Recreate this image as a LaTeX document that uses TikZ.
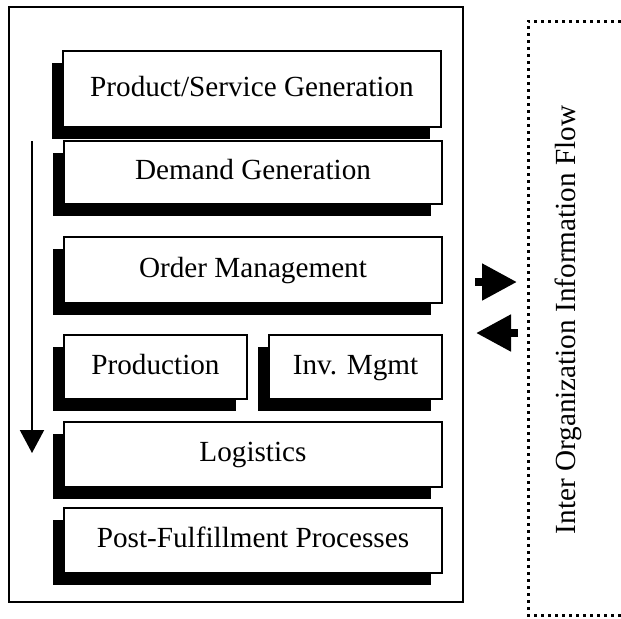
\documentclass[tikz,border=0pt]{standalone}
\usepackage{fontspec}
\setmainfont{Liberation Serif}
\usepackage{tikz}
\usetikzlibrary{arrows.meta,shadows}
\tikzset{
  lepes/.style={draw,line width=0.65pt,fill=white,inner sep=0pt,align=center,
                font=\fontsize{14.6}{17}\selectfont,text height=10pt,text depth=3pt,
                minimum width=189pt,minimum height=32.5pt,
                drop shadow={shadow xshift=-5.5pt,shadow yshift=-6pt,fill=black,opacity=1}},
  keret/.style={draw,line width=0.65pt},
  pontozott/.style={line width=1.5pt,dash pattern=on 1.4pt off 2.1pt},
  nyil/.style={line width=1pt,-{Triangle[width=12pt,length=11.5pt]}},
  tomb/.style={line width=4pt,-{Triangle[width=17.5pt,length=17.5pt]}},
  cimke/.style={font=\fontsize{14.6}{17}\selectfont,rotate=90},
}
\begin{document}
\begin{tikzpicture}[x=0.5pt,y=-0.5pt]
  \useasboundingbox (0,0) rectangle (621,618);
  \draw[keret] (9,7) rectangle (463,602);
  \node[lepes,minimum height=38pt] (termek) at (252,89) {Product/Service Generation};
  \node[lepes,minimum height=31.5pt] (kereslet) at (253,172.5) {Demand Generation};
  \node[lepes,minimum height=33pt] (rendeles) at (253,270) {Order Management};
  \node[lepes,minimum width=91.5pt,minimum height=32pt] (gyartas) at (155.5,367) {Production};
  \node[lepes,minimum width=86.5pt,minimum height=32pt] (keszlet) at (355.5,367) {Inv. Mgmt};
  \node[lepes] (logisztika) at (253,454.5) {Logistics};
  \node[lepes] (utana) at (253,540.5) {Post-Fulfillment Processes};
  % folyamat iranya
  \coordinate (fent) at (32,141); \coordinate (lent) at (32,453);
  \draw[nyil] (fent) -- (lent);
  % szervezetek kozotti kapcsolat
  \draw[pontozott] (621,21) -- (528,21) -- (528,615) -- (621,615);
  \node[cimke] (info) at (568,320) {Inter Organization Information Flow};
  \coordinate (ki1) at (475,282); \coordinate (ki2) at (517,282);
  \coordinate (be1) at (518,333); \coordinate (be2) at (476,333);
  \draw[tomb] (ki1) -- (ki2);
  \draw[tomb] (be1) -- (be2);
\end{tikzpicture}
\end{document}
